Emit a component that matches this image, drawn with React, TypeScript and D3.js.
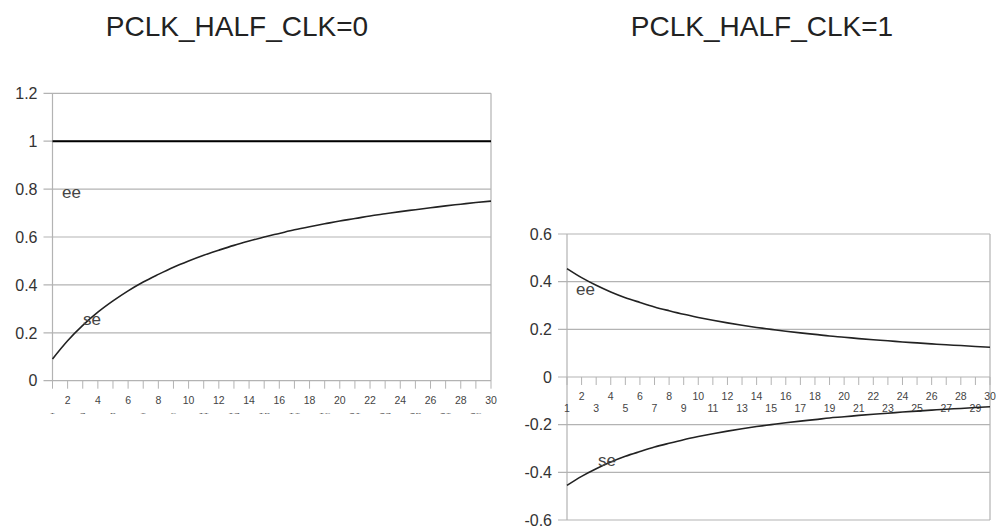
import React from "react";
import * as d3 from "d3";

const xCats = d3.range(1, 31);
const leftTitle = "PCLK_HALF_CLK=0";
const rightTitle = "PCLK_HALF_CLK=1";
const leftYTicks = [0, 0.2, 0.4, 0.6, 0.8, 1, 1.2];
const rightYTicks = [-0.6, -0.4, -0.2, 0, 0.2, 0.4, 0.6];
const leftEE = Array(30).fill(1);
const leftSE = [0.091, 0.167, 0.231, 0.286, 0.333, 0.375, 0.412, 0.444, 0.474, 0.5, 0.524, 0.545, 0.565, 0.583, 0.6, 0.615, 0.63, 0.643, 0.655, 0.667, 0.677, 0.688, 0.697, 0.706, 0.714, 0.722, 0.73, 0.737, 0.744, 0.75];
const rightEE = [0.455, 0.417, 0.385, 0.357, 0.333, 0.313, 0.294, 0.278, 0.263, 0.25, 0.238, 0.227, 0.217, 0.208, 0.2, 0.192, 0.185, 0.179, 0.172, 0.167, 0.161, 0.156, 0.152, 0.147, 0.143, 0.139, 0.135, 0.132, 0.128, 0.125];
const rightSE = [-0.455, -0.417, -0.385, -0.357, -0.333, -0.313, -0.294, -0.278, -0.263, -0.25, -0.238, -0.227, -0.217, -0.208, -0.2, -0.192, -0.185, -0.179, -0.172, -0.167, -0.161, -0.156, -0.152, -0.147, -0.143, -0.139, -0.135, -0.132, -0.128, -0.125];

const FONT = "'Liberation Sans', Arial, sans-serif";
const GRID = "#b3b3b3";

type PanelProps = {
  title: string;
  titleX: number;
  x0: number;
  x1: number;
  yDomain: [number, number];
  yRange: [number, number];
  yTicks: number[];
  series: { values: number[]; width: number; color: string }[];
  labels: { text: string; x: number; y: number }[];
  oddVisible: boolean;
};

function Panel(p: PanelProps) {
  const x = d3.scaleLinear().domain([1, 30]).range([p.x0, p.x1]);
  const y = d3.scaleLinear().domain(p.yDomain).range(p.yRange);
  const y0 = y(0);
  const line = d3
    .line<number>()
    .x((_, i) => x(xCats[i]))
    .y((d) => y(d))
    .curve(d3.curveMonotoneX);
  const fmt = (v: number) => (Math.abs(v) < 1e-9 ? "0" : String(+v.toFixed(1)));
  return (
    <g>
      <text x={p.titleX} y={36} textAnchor="middle" fontFamily={FONT} fontSize={28} fill="#222">
        {p.title}
      </text>
      {p.yTicks.map((t) => (
        <g key={t}>
          <line x1={p.x0 - 9} x2={p.x1} y1={y(t)} y2={y(t)} stroke={GRID} strokeWidth={1.2} />
          <text x={p.x0 - 15} y={y(t)} dy="0.36em" textAnchor="end" fontFamily={FONT} fontSize={16} fill="#333">
            {fmt(t)}
          </text>
        </g>
      ))}
      <line x1={p.x0} x2={p.x0} y1={p.yRange[1]} y2={p.yRange[0]} stroke={GRID} strokeWidth={1.2} />
      <line x1={p.x1} x2={p.x1} y1={p.yRange[1]} y2={p.yRange[0]} stroke={GRID} strokeWidth={1.2} />
      {xCats.map((c) => (
        <g key={c}>
          <line x1={x(c)} x2={x(c)} y1={y0} y2={y0 + 8} stroke={GRID} strokeWidth={1} />
          {c % 2 === 0 ? (
            <text x={x(c)} y={y0 + 23} textAnchor="middle" fontFamily={FONT} fontSize={10.5} fill="#444">
              {c}
            </text>
          ) : p.oddVisible ? (
            <text x={x(c)} y={y0 + 35} textAnchor="middle" fontFamily={FONT} fontSize={10.5} fill="#444">
              {c}
            </text>
          ) : (
            <text
              x={x(c)}
              y={0}
              textAnchor="middle"
              fontFamily={FONT}
              fontSize={10.5}
              fill="#555"
              transform={`translate(0,${y0 + 33}) scale(1,0.18)`}
            >
              {c}
            </text>
          )}
        </g>
      ))}
      {p.series.map((s, i) => (
        <path key={i} d={line(s.values) || ""} fill="none" stroke={s.color} strokeWidth={s.width} />
      ))}
      {p.labels.map((l, i) => (
        <text key={i} x={l.x} y={l.y} fontFamily={FONT} fontSize={17} fill="#444">
          {l.text}
        </text>
      ))}
    </g>
  );
}

export default function App() {
  return (
    <svg width={996} height={528} style={{ position: "absolute", left: 0, top: 0, background: "#fff" }}>
      <rect width={996} height={528} fill="#fff" />
      <Panel
        title={leftTitle}
        titleX={237}
        x0={52.5}
        x1={491}
        yDomain={[0, 1.2]}
        yRange={[380.7, 93.3]}
        yTicks={leftYTicks}
        series={[
          { values: leftEE, width: 2, color: "#000" },
          { values: leftSE, width: 1.6, color: "#222" },
        ]}
        labels={[
          { text: "ee", x: 62, y: 198 },
          { text: "se", x: 83, y: 325 },
        ]}
        oddVisible={false}
      />
      <Panel
        title={rightTitle}
        titleX={762}
        x0={567}
        x1={990}
        yDomain={[-0.6, 0.6]}
        yRange={[520, 234]}
        yTicks={rightYTicks}
        series={[
          { values: rightEE, width: 1.6, color: "#222" },
          { values: rightSE, width: 1.6, color: "#222" },
        ]}
        labels={[
          { text: "ee", x: 576, y: 295 },
          { text: "se", x: 598, y: 466 },
        ]}
        oddVisible={true}
      />
    </svg>
  );
}
